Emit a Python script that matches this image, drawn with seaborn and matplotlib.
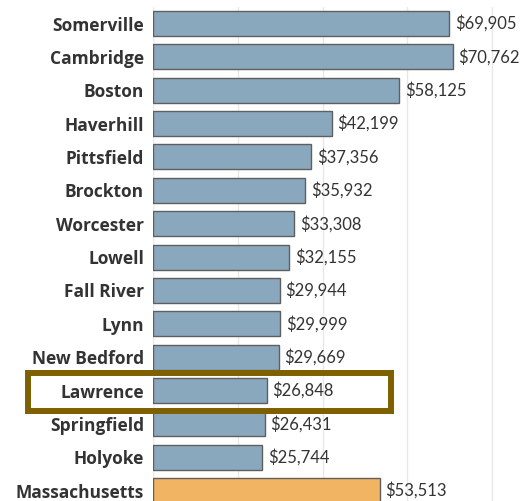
import matplotlib
matplotlib.use("Agg")
import matplotlib.pyplot as plt
from matplotlib.patches import Rectangle
import seaborn as sns
import pandas as pd

# Per-capita income by city
cities = ["Somerville", "Cambridge", "Boston", "Haverhill", "Pittsfield",
          "Brockton", "Worcester", "Lowell", "Fall River", "Lynn",
          "New Bedford", "Lawrence", "Springfield", "Holyoke", "Massachusetts"]
income = [69905, 70762, 58125, 42199, 37356,
          35932, 33308, 32155, 29944, 29999,
          29669, 26848, 26431, 25744, 53513]
highlight = "Lawrence"
state = "Massachusetts"

city_color = "#8aa8bd"
state_color = "#f1b463"
edge_color = "#5f5f5f"
box_color = "#7f6000"
text_color = "#333333"

df = pd.DataFrame({"city": cities, "income": income})
palette = {c: (state_color if c == state else city_color) for c in cities}

sns.set_theme(style="white")
plt.rcParams["font.family"] = ["Lato", "DejaVu Sans"]

fig = plt.figure(figsize=(5.26, 5.01), dpi=100)
ax = fig.add_axes([153 / 526, 0.0, 373 / 526, 494 / 501])

sns.barplot(data=df, x="income", y="city", hue="city", palette=palette,
            order=cities, hue_order=cities, legend=False, width=0.75,
            edgecolor=edge_color, linewidth=1.0, saturation=1, ax=ax)

ax.set_xlim(0, 88000)
ax.set_ylim(14.31, -0.495)
ax.set_xticks([0, 20000, 40000, 60000, 80000])
ax.set_xticklabels([])
ax.grid(axis="x", color="#e8e8e8", linewidth=1.0)
ax.grid(axis="y", visible=False)
ax.set_axisbelow(True)
for s in ax.spines.values():
    s.set_visible(False)
ax.set_xlabel("")
ax.set_ylabel("")
ax.tick_params(axis="y", length=0, pad=6.5)
ax.tick_params(axis="x", length=0)
for lbl in ax.get_yticklabels():
    lbl.set_fontfamily(["Open Sans", "DejaVu Sans"])
    lbl.set_fontweight("bold")
    lbl.set_fontsize(12.5)
    lbl.set_color(text_color)

for cont in ax.containers:
    ax.bar_label(cont, labels=[f"${v:,.0f}" for v in cont.datavalues],
                 padding=4, fontsize=12, color=text_color)

# Frame around the highlighted city row
row = cities.index(highlight)
box = Rectangle((-29480, row - 0.52), 56130 + 29480, 1.14,
                fill=False, edgecolor=box_color, linewidth=4.3,
                clip_on=False, zorder=5)
ax.add_patch(box)

fig.savefig("out.png", dpi=100)
